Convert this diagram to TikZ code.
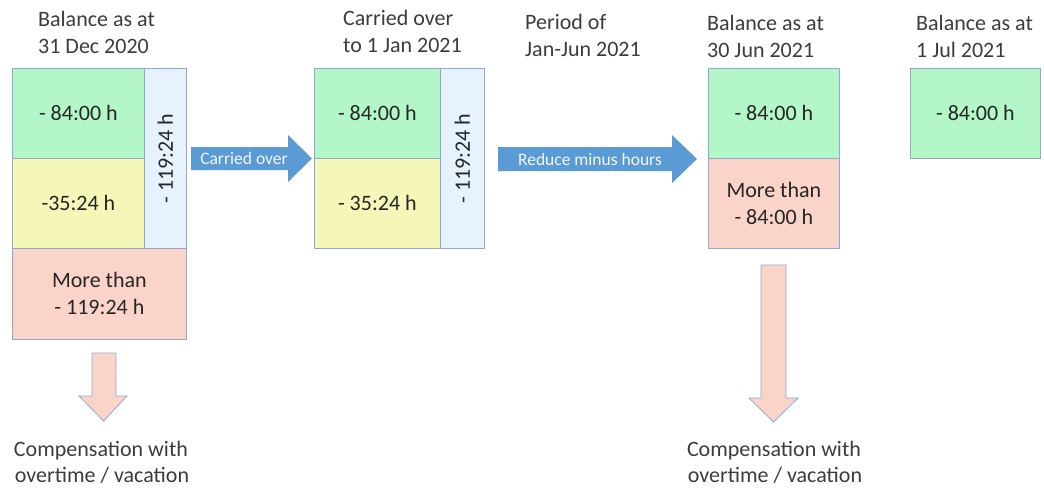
\documentclass[tikz,border=0pt]{standalone}
\usepackage{fontspec}
\setmainfont{Carlito}
\definecolor{gr}{HTML}{B3F7C8}
\definecolor{ye}{HTML}{F5F7B9}
\definecolor{bl}{HTML}{E6F2FD}
\definecolor{sa}{HTML}{FAD4C8}
\definecolor{bordc}{HTML}{8FAACB}
\definecolor{arrowblue}{HTML}{5B9BD5}
\definecolor{txt}{HTML}{262626}
\begin{document}
\begin{tikzpicture}[x=1pt,y=-1pt,
  cell/.style={draw=bordc, line width=0.8pt, inner sep=0pt, anchor=north west,
    font=\fontsize{22}{27}\selectfont, text=txt, align=center},
  tline/.style={anchor=base west, inner sep=0pt, font=\fontsize{22}{27}\selectfont, text=txt!90!white},
  cline/.style={anchor=base, inner sep=0pt, font=\fontsize{22}{27}\selectfont, text=txt!90!white},
  alabel/.style={inner sep=0pt, font=\fontsize{17.5}{20}\selectfont, text=white!92!arrowblue},
  bigarrow/.style={fill=arrowblue},
  downarrow/.style={fill=sa, draw=bordc, line width=0.8pt}]
\useasboundingbox (0,0) rectangle (1044,488);

% titles
\node[tline] (t1a) at (38,26) {Balance as at};
\node[tline] (t1b) at (38,53) {31 Dec 2020};
\node[tline] (t2a) at (343,25) {Carried over};
\node[tline] (t2b) at (343,52) {to 1 Jan 2021};
\node[tline] (t3a) at (525,29) {Period of};
\node[tline] (t3b) at (525,56) {Jan-Jun 2021};
\node[tline] (t4a) at (707,30) {Balance as at};
\node[tline] (t4b) at (707,57) {30 Jun 2021};
\node[tline] (t5a) at (916,30) {Balance as at};
\node[tline] (t5b) at (916,57) {1 Jul 2021};

% left group
\node[cell, fill=gr, minimum width=132pt, minimum height=90pt] (g1) at (12,68) {- 84:00 h};
\node[cell, fill=ye, minimum width=132pt, minimum height=90pt] (y1) at (12,158) {-35:24 h};
\node[cell, fill=bl, minimum width=42pt, minimum height=180pt] (b1) at (144,68) {};
\node[text=txt, font=\fontsize{22}{27}\selectfont, rotate=90, inner sep=0pt] (b1t) at (b1.center) {- 119:24 h};
\node[cell, fill=sa, minimum width=174pt, minimum height=91pt] (r1) at (12,248) {More than\\- 119:24 h};

% middle group
\node[cell, fill=gr, minimum width=126pt, minimum height=90pt] (g2) at (314,68) {- 84:00 h};
\node[cell, fill=ye, minimum width=126pt, minimum height=90pt] (y2) at (314,158) {- 35:24 h};
\node[cell, fill=bl, minimum width=44pt, minimum height=180pt] (b2) at (440,68) {};
\node[text=txt, font=\fontsize{22}{27}\selectfont, rotate=90, inner sep=0pt] (b2t) at (b2.center) {- 119:24 h};

% right group
\node[cell, fill=gr, minimum width=131pt, minimum height=90pt] (g3) at (708,68) {- 84:00 h};
\node[cell, fill=sa, minimum width=131pt, minimum height=90pt] (r3) at (708,158) {More than\\- 84:00 h};

% far right
\node[cell, fill=gr, minimum width=130pt, minimum height=90pt] (g4) at (910,68) {- 84:00 h};

% block arrows
\fill[bigarrow] (191,147) -- (288,147) -- (288,135) -- (312,158.5) -- (288,182) -- (288,170) -- (191,170) -- cycle;
\node[alabel] (a1) at (244,158.5) {Carried over};
\fill[bigarrow] (498,147) -- (672,147) -- (672,135) -- (697,159) -- (672,183) -- (672,171) -- (498,171) -- cycle;
\node[alabel] (a2) at (590,159) {Reduce minus hours};

% down arrows
\filldraw[downarrow] (92,353) -- (116,353) -- (116,396) -- (127,396) -- (103.5,421) -- (79,396) -- (92,396) -- cycle;
\filldraw[downarrow] (761,265) -- (786,265) -- (786,398) -- (798,398) -- (773.5,422) -- (749,398) -- (761,398) -- cycle;

% compensation texts
\node[cline] (c1a) at (101,456) {Compensation with};
\node[cline] (c1b) at (102,482) {overtime / vacation};
\node[cline] (c2a) at (774,456) {Compensation with};
\node[cline] (c2b) at (775,482) {overtime / vacation};
\end{tikzpicture}
\end{document}
